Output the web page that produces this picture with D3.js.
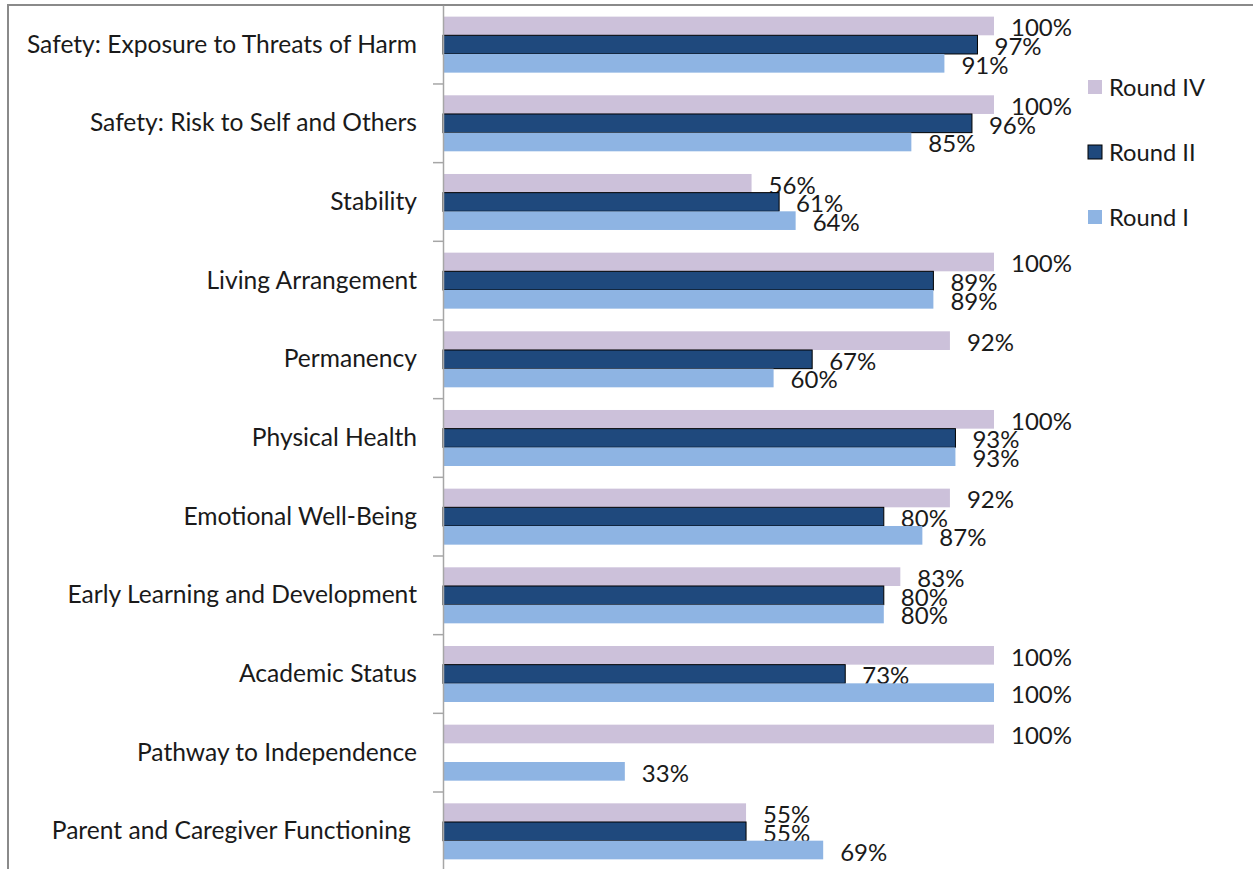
<!DOCTYPE html>
<html>
<head>
<meta charset="utf-8">
<script src="https://cdn.jsdelivr.net/npm/d3@7"></script>
<style>
  body { margin: 0; background: #fff; }
  svg { display: block; }
  text { font-family: Lato, "Open Sans", sans-serif; fill: #1a1a1a; }
</style>
</head>
<body>
<svg id="container" width="1253" height="869"></svg>
<script>
// chart data
var categories = [
  "Safety: Exposure to Threats of Harm",
  "Safety: Risk to Self and Others",
  "Stability",
  "Living Arrangement",
  "Permanency",
  "Physical Health",
  "Emotional Well-Being",
  "Early Learning and Development",
  "Academic Status",
  "Pathway to Independence",
  "Parent and Caregiver Functioning "
];
var seriesNames = ["Round IV", "Round II", "Round I"];
var roundIV = [100, 100, 56, 100, 92, 100, 92, 83, 100, 100, 55];
var roundII = [97, 96, 61, 89, 67, 93, 80, 80, 73, null, 55];
var roundI  = [91, 85, 64, 89, 60, 93, 87, 80, 100, 33, 69];
var seriesColors = ["#CCC1DA", "#1F497D", "#8EB4E3"];

const main = function(){
  var svg = d3.select('#container');
  var values = [roundIV, roundII, roundI];

  // outer frame
  svg.append("rect")
    .attr("x", 8).attr("y", 5)
    .attr("width", 1400).attr("height", 1000)
    .attr("fill", "none")
    .attr("stroke", "#8a8a8a")
    .attr("stroke-width", 2);

  var x = d3.scaleLinear().domain([0, 100]).range([443, 994]);
  var y = d3.scaleBand().domain(categories).range([5.3, 5.3 + 11 * 78.67]);
  var sub = d3.scaleBand().domain(seriesNames).range([0, y.bandwidth()])
    .paddingInner(0).paddingOuter(0.607);

  // bars
  seriesNames.forEach(function(name, si){
    var rows = categories.map(function(c, i){ return {cat: c, v: values[si][i]}; })
      .filter(function(d){ return d.v != null; });
    var g = svg.append("g");
    g.selectAll("rect").data(rows).enter().append("rect")
      .attr("x", x(0))
      .attr("y", function(d){ return y(d.cat) + sub(name); })
      .attr("width", function(d){ return x(d.v) - x(0); })
      .attr("height", sub.bandwidth())
      .attr("fill", seriesColors[si])
      .attr("stroke", si === 1 ? "#000" : "none")
      .attr("stroke-width", 1);
    g.selectAll("text").data(rows).enter().append("text")
      .attr("x", function(d){ return x(d.v) + 17; })
      .attr("y", function(d){ return y(d.cat) + sub(name) + sub.bandwidth() / 2 + 1; })
      .attr("dominant-baseline", "central")
      .style("font-size", "24px")
      .text(function(d){ return d.v + "%"; });
  });

  // category axis
  var axis = d3.axisLeft(y).tickSize(0).tickPadding(26);
  var ax = svg.append("g").attr("transform", "translate(443,0)").call(axis);
  ax.select(".domain").attr("stroke", "#a6a6a6").attr("stroke-width", 1.5);
  ax.selectAll(".tick text")
    .style("font-size", "24.6px")
    .style("white-space", "pre")
    .attr("fill", "#1a1a1a");

  // tick marks between categories
  svg.append("g").selectAll("line").data(categories.slice(1)).enter().append("line")
    .attr("x1", 433).attr("x2", 443)
    .attr("y1", function(d){ return y(d); })
    .attr("y2", function(d){ return y(d); })
    .attr("stroke", "#a6a6a6")
    .attr("stroke-width", 1.5);

  // legend
  var legendY = [87, 152, 217];
  var lg = svg.append("g");
  seriesNames.forEach(function(name, si){
    lg.append("rect")
      .attr("x", 1088).attr("y", legendY[si] - 7)
      .attr("width", 14).attr("height", 14)
      .attr("fill", seriesColors[si])
      .attr("stroke", si === 1 ? "#000" : "none");
    lg.append("text")
      .attr("x", 1109).attr("y", legendY[si])
      .attr("dominant-baseline", "central")
      .style("font-size", "23.7px")
      .text(name);
  });
}

main();
</script>
</body>
</html>
